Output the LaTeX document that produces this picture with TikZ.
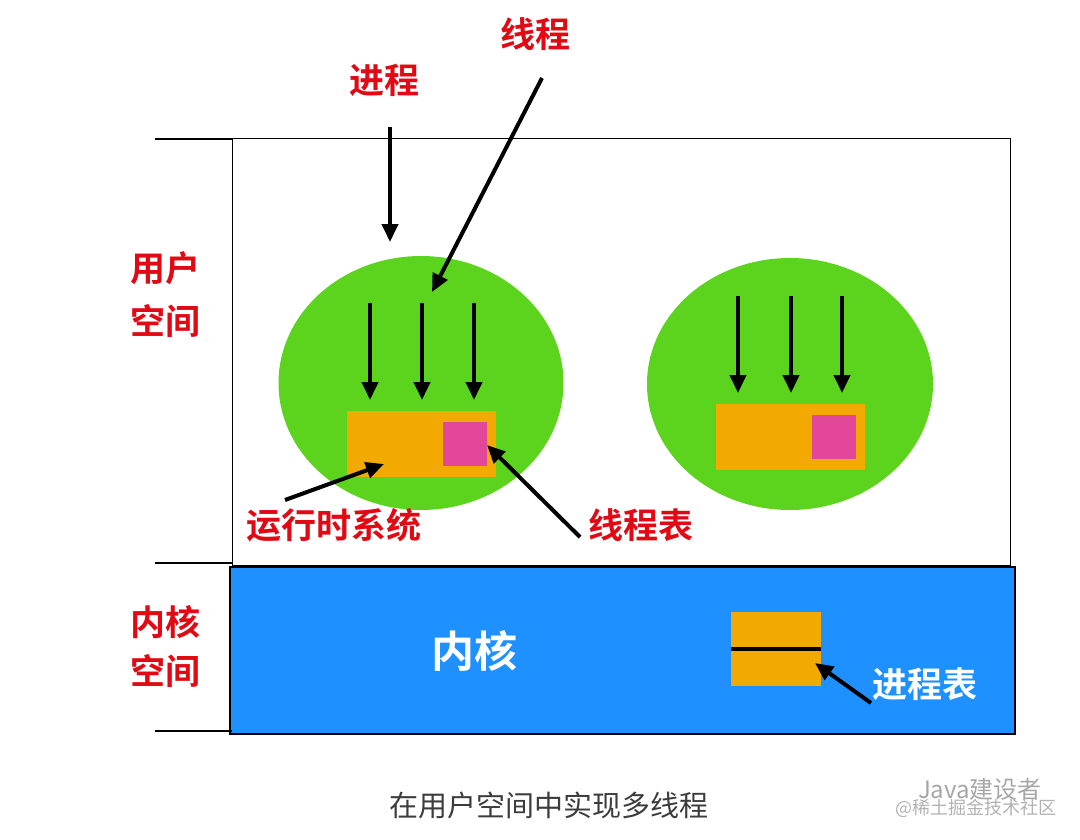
\documentclass[tikz,border=0pt]{standalone}
\usepackage{fontspec}
\setmainfont{Noto Sans CJK SC}
\newfontfamily\cjkb{Noto Sans CJK SC Bold}
\usetikzlibrary{arrows.meta,shapes.geometric}
\definecolor{ugreen}{RGB}{92,212,30}
\definecolor{uorange}{RGB}{242,170,0}
\definecolor{upink}{RGB}{226,71,154}
\definecolor{ublue}{RGB}{30,144,255}
\definecolor{ured}{RGB}{225,10,20}
\definecolor{ucap}{RGB}{60,60,60}
\tikzset{
  redlbl/.style={text=ured,font=\cjkb\fontsize{35}{40}\selectfont,inner sep=0pt,align=center},
  whitelbl/.style={text=white,font=\cjkb\fontsize{35}{40}\selectfont,inner sep=0pt},
  arr/.style={-{Triangle[length=18pt,width=16pt]},line width=4pt,black},
  tick/.style={line width=2.6pt,black},
}
\begin{document}
\begin{tikzpicture}[x=1pt,y=-1pt]
\useasboundingbox (0,0) rectangle (1080,839);
% user space box
\node[draw=black,line width=1.3pt,minimum width=778pt,minimum height=427pt,inner sep=0pt,anchor=north west] (user) at (232,138) {};
% kernel box
\node[draw=black,line width=1.8pt,fill=ublue,minimum width=785pt,minimum height=167pt,inner sep=0pt,anchor=north west] (kern) at (229,566) {};
% ticks
\coordinate (t1a) at (155,139); \coordinate (t1b) at (232,139);
\coordinate (t2a) at (155,563); \coordinate (t2b) at (232,563);
\coordinate (t3a) at (155,731); \coordinate (t3b) at (232,731);
\draw[tick] (t1a) -- (t1b);
\draw[tick] (t2a) -- (t2b);
\draw[tick] (t3a) -- (t3b);
% side labels
\node[redlbl] (us1) at (165,268) {用户};
\node[redlbl] (us2) at (165,321) {空间};
\node[redlbl] (ks1) at (165,622) {内核};
\node[redlbl] (ks2) at (165,671) {空间};
% ellipses
\node[ellipse,fill=ugreen,minimum width=285pt,minimum height=254pt,inner sep=0pt] (e1) at (421,383) {};
\node[ellipse,fill=ugreen,minimum width=286pt,minimum height=252pt,inner sep=0pt] (e2) at (790,384) {};
% runtime boxes
\node[fill=uorange,minimum width=149pt,minimum height=66pt,inner sep=0pt,anchor=north west] (rt1) at (347,411) {};
\node[fill=upink,minimum width=44pt,minimum height=44pt,inner sep=0pt,anchor=north west] (tt1) at (443,422) {};
\node[fill=uorange,minimum width=149pt,minimum height=66pt,inner sep=0pt,anchor=north west] (rt2) at (716,404) {};
\node[fill=upink,minimum width=44pt,minimum height=44pt,inner sep=0pt,anchor=north west] (tt2) at (812,415) {};
% thread arrows
\foreach \i/\x in {1/370,2/422,3/474}{
  \coordinate (a\i s) at (\x,303); \coordinate (a\i e) at (\x,400);
  \draw[arr] (a\i s) -- (a\i e);
}
\foreach \i/\x in {1/738,2/791,3/842}{
  \coordinate (b\i s) at (\x,296); \coordinate (b\i e) at (\x,393);
  \draw[arr] (b\i s) -- (b\i e);
}
% top labels
\node[redlbl] (proc) at (384,80) {进程};
\node[redlbl] (thr) at (535,34) {线程};
\coordinate (ps) at (390,127); \coordinate (pe) at (390,242);
\draw[arr] (ps) -- (pe);
\coordinate (ths) at (542,78); \coordinate (the) at (432,292);
\draw[arr] (ths) -- (the);
% bottom labels
\node[redlbl] (rts) at (334,525) {运行时系统};
\node[redlbl] (tht) at (641,525) {线程表};
\coordinate (rs) at (285,500); \coordinate (re) at (384,464);
\draw[arr] (rs) -- (re);
\coordinate (ts) at (580,537); \coordinate (te) at (487,445);
\draw[arr] (ts) -- (te);
% kernel
\node[text=white,font=\cjkb\fontsize{43}{46}\selectfont,inner sep=0pt] (kl) at (474,651) {内核};
\node[fill=uorange,minimum width=90pt,minimum height=74pt,inner sep=0pt,anchor=north west] (pt) at (731,612) {};
\draw[line width=3.6pt,black] (pt.west |- 0,649) -- (pt.east |- 0,649);
\node[whitelbl] (ptl) at (925,684) {进程表};
\coordinate (qs) at (871,703); \coordinate (qe) at (815,663);
\draw[arr] (qs) -- (qe);
% caption
\node[text=ucap,font=\fontsize{29}{32}\selectfont,inner sep=0pt] (cap) at (549,805) {在用户空间中实现多线程};
% watermark
\node[text=black!35,font=\fontsize{24}{26}\selectfont,inner sep=0pt] (wm1) at (980,789) {Java建设者};
\node[text=black!30,font=\fontsize{18}{20}\selectfont,inner sep=0pt] (wm2) at (976,808) {@稀土掘金技术社区};
\end{tikzpicture}
\end{document}
